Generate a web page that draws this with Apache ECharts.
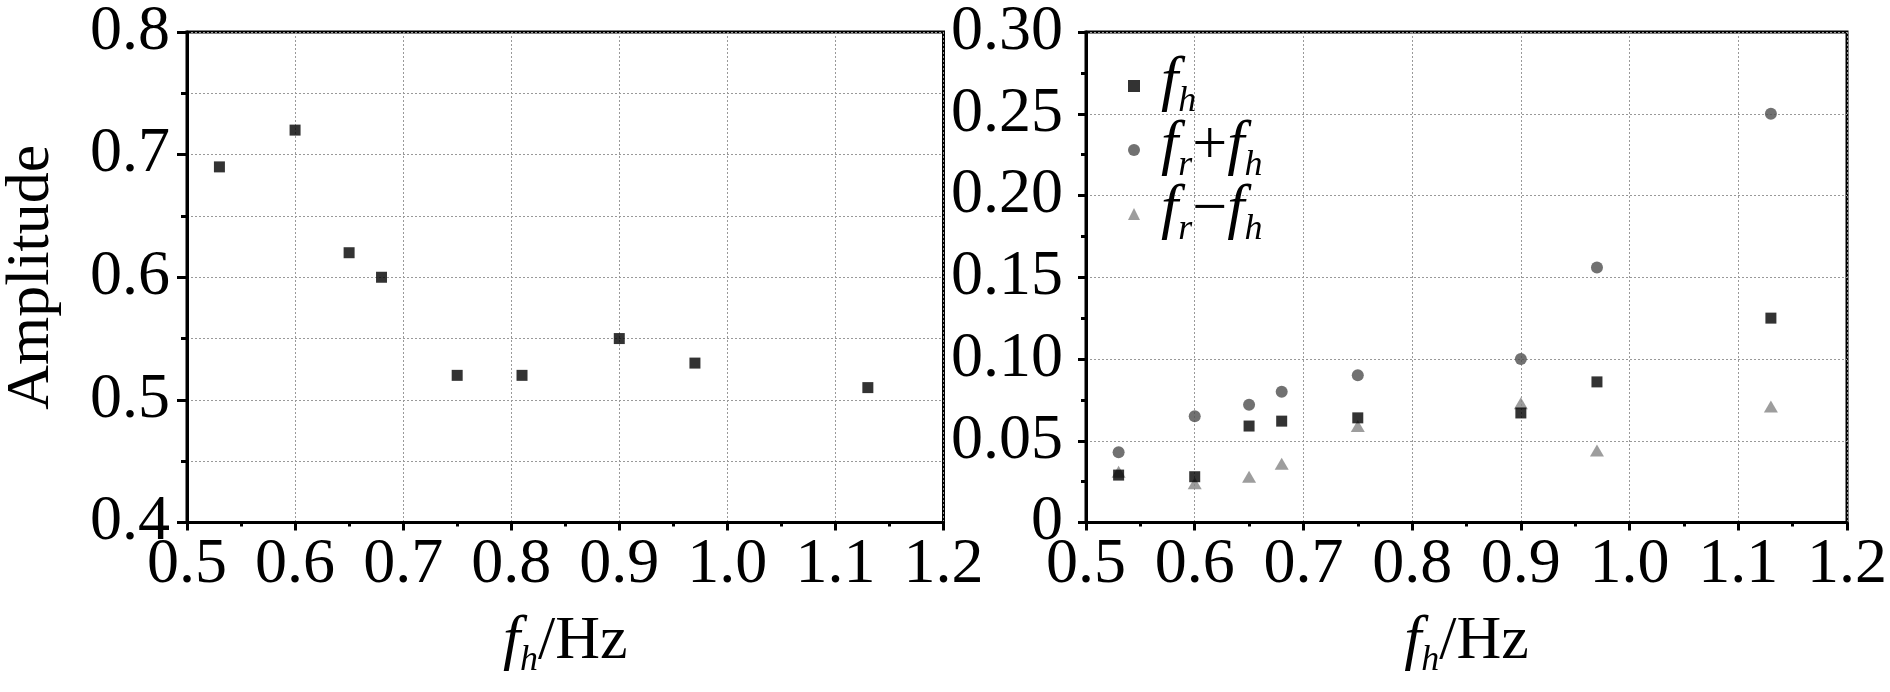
<!DOCTYPE html>
<html>
<head>
<meta charset="utf-8">
<script src="https://cdn.jsdelivr.net/npm/echarts@6/dist/echarts.min.js"></script>
<style>
  html, body { margin: 0; padding: 0; background: #fff; }
  #chart { width: 1890px; height: 692px; }
</style>
</head>
<body>
<div id="chart"></div>
<script>
// left panel: amplitude of f_h
var freqLeft = [0.53, 0.60, 0.65, 0.68, 0.75, 0.81, 0.90, 0.97, 1.13];
var ampLeft = [0.69, 0.72, 0.62, 0.60, 0.52, 0.52, 0.55, 0.53, 0.51];

// right panel: three components
var freqRight = [0.53, 0.60, 0.65, 0.68, 0.75, 0.90, 0.97, 1.13];
var ampFh = [0.029, 0.028, 0.059, 0.062, 0.064, 0.067, 0.086, 0.125];
var ampSum = [0.043, 0.065, 0.072, 0.080, 0.090, 0.100, 0.156, 0.250];
var ampDiff = [0.031, 0.024, 0.028, 0.036, 0.059, 0.073, 0.044, 0.071];

var seriesNames = ['fh', 'fr+fh', 'fr-fh'];
var legendLabels = {
    'fh': '{i|f}{s|h}',
    'fr+fh': '{i|f}{s|r}{n|+}{i|f}{s|h}',
    'fr-fh': '{i|f}{s|r}{n|\u2212}{i|f}{s|h}'
};

var FONT = '"Liberation Serif", "Times New Roman", Times, serif';
var TICK_SIZE = 64;
var chart = echarts.init(document.getElementById('chart'));

// rich text pieces: italic f, subscript, plain
var rich = {
    i: { fontFamily: FONT, fontStyle: 'italic', fontSize: 62, color: '#000', verticalAlign: 'bottom', padding: [0, 0, 6, 0] },
    s: { fontFamily: FONT, fontStyle: 'italic', fontSize: 36, color: '#000', verticalAlign: 'bottom' },
    n: { fontFamily: FONT, fontSize: 62, color: '#000', verticalAlign: 'bottom', padding: [0, 0, 6, 0] }
};

function zip(xs, ys) {
    return xs.map(function (x, k) { return [x, ys[k]]; });
}

var gridLine = { show: true, lineStyle: { color: '#999', width: 1, type: [2, 2] } };

function xAxisFor(gridIndex) {
    return {
        type: 'value', gridIndex: gridIndex,
        min: 0.5, max: 1.2, interval: 0.1,
        name: '{i|f}{s|h}{n|/Hz}',
        nameLocation: 'middle', nameGap: 88,
        nameTextStyle: { rich: rich },
        axisLine: { show: true, onZero: false, lineStyle: { color: '#000', width: 3 } },
        axisTick: { show: true, inside: false, length: 8, lineStyle: { color: '#000', width: 3 } },
        minorTick: { show: true, splitNumber: 2, length: 4, lineStyle: { color: '#000', width: 3 } },
        axisLabel: {
            fontFamily: FONT, fontSize: TICK_SIZE, color: '#000', margin: 11,
            showMinLabel: true, showMaxLabel: true,
            formatter: function (v) { return v.toFixed(1); }
        },
        splitLine: gridLine
    };
}

var option = {
    animation: false,
    grid: [
        { left: 181.5, top: 31.5, width: 762, height: 491, show: true, borderColor: '#000', borderWidth: 3 },
        { left: 1086, top: 32, width: 763, height: 490.5, show: true, borderColor: '#000', borderWidth: 3 }
    ],
    legend: {
        left: 1128, top: 52, padding: 0,
        orient: 'vertical', itemGap: -4,
        itemWidth: 12, itemHeight: 12,
        data: [
            { name: 'fh', icon: 'rect' },
            { name: 'fr+fh', icon: 'circle' },
            { name: 'fr-fh', icon: 'triangle' }
        ],
        formatter: function (name) { return legendLabels[name]; },
        textStyle: { padding: [0, 0, 0, 16], rich: rich }
    },
    xAxis: [xAxisFor(0), xAxisFor(1)],
    yAxis: [
        {
            type: 'value', gridIndex: 0,
            min: 0.4, max: 0.8, interval: 0.1,
            name: 'Amplitude', nameLocation: 'middle', nameGap: 124,
            nameTextStyle: { fontFamily: FONT, fontSize: 62, color: '#000' },
            axisLine: { show: true, onZero: false, lineStyle: { color: '#000', width: 3 } },
            axisTick: { show: true, length: 10, lineStyle: { color: '#000', width: 3 } },
            minorTick: { show: true, splitNumber: 2, length: 6, lineStyle: { color: '#000', width: 3 } },
            axisLabel: {
                fontFamily: FONT, fontSize: TICK_SIZE, color: '#000', margin: 17,
                showMinLabel: true, showMaxLabel: true,
                formatter: function (v) { return v.toFixed(1); }
            },
            splitLine: gridLine,
            minorSplitLine: gridLine
        },
        {
            type: 'value', gridIndex: 1,
            min: 0, max: 0.3, interval: 0.05,
            axisLine: { show: true, onZero: false, lineStyle: { color: '#000', width: 3 } },
            axisTick: { show: true, length: 8, lineStyle: { color: '#000', width: 3 } },
            minorTick: { show: true, splitNumber: 2, length: 5, lineStyle: { color: '#000', width: 3 } },
            axisLabel: {
                fontFamily: FONT, fontSize: TICK_SIZE, color: '#000', margin: 23,
                showMinLabel: true, showMaxLabel: true,
                formatter: function (v) { return v === 0 ? '0' : v.toFixed(2); }
            },
            splitLine: gridLine
        }
    ],
    series: [
        {
            name: 'left', type: 'scatter', xAxisIndex: 0, yAxisIndex: 0,
            symbol: 'rect', symbolSize: 11,
            itemStyle: { color: '#000' },
            emphasis: { disabled: true },
            data: zip(freqLeft, ampLeft)
        },
        {
            name: seriesNames[0], type: 'scatter', xAxisIndex: 1, yAxisIndex: 1,
            symbol: 'rect', symbolSize: 11,
            itemStyle: { color: '#000' },
            emphasis: { disabled: true },
            data: zip(freqRight, ampFh),
            z: 4
        },
        {
            name: seriesNames[1], type: 'scatter', xAxisIndex: 1, yAxisIndex: 1,
            symbol: 'circle', symbolSize: 12,
            itemStyle: { color: '#4d4d4d' },
            emphasis: { disabled: true },
            data: zip(freqRight, ampSum),
            z: 3
        },
        {
            name: seriesNames[2], type: 'scatter', xAxisIndex: 1, yAxisIndex: 1,
            symbol: 'triangle', symbolSize: [14, 12],
            itemStyle: { color: '#858585' },
            emphasis: { disabled: true },
            data: zip(freqRight, ampDiff),
            z: 3
        }
    ]
};

chart.setOption(option);
</script>
</body>
</html>
